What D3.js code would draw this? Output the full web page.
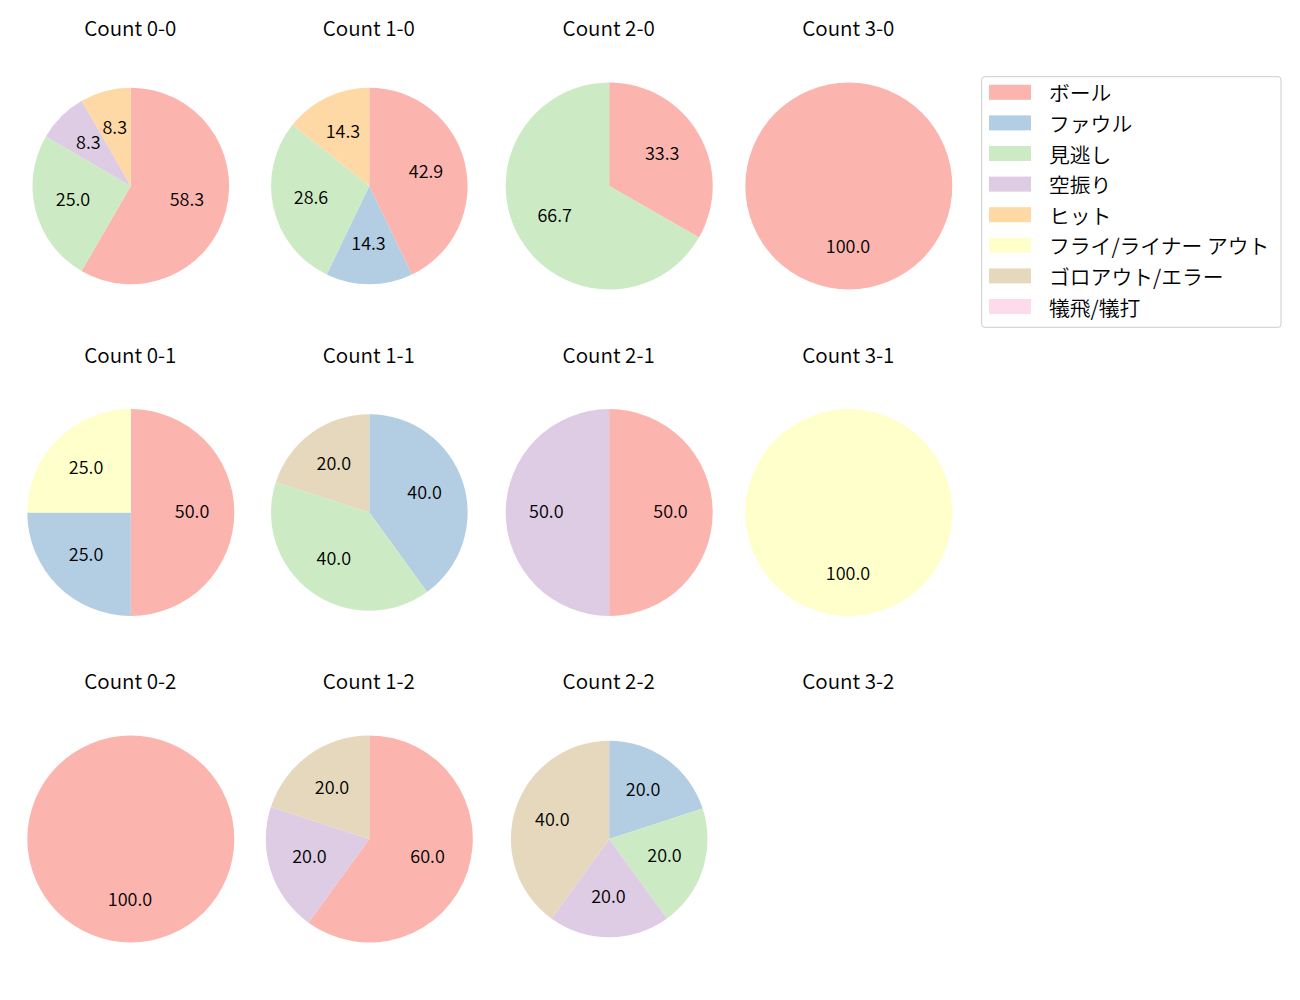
<!DOCTYPE html>
<html>
<head>
<meta charset="utf-8">
<script src="https://cdn.jsdelivr.net/npm/d3@7"></script>
<style>
  html, body { margin: 0; padding: 0; background: #ffffff; }
  svg { display: block; }
  text { font-family: "Noto Sans CJK JP", "Noto Sans", sans-serif; font-weight: 350; fill: #000000; }
</style>
</head>
<body>
<svg id="chart" width="1300" height="1000"></svg>
<script>
// ---------------- data ----------------
const categories = ["ボール", "ファウル", "見逃し", "空振り", "ヒット", "フライ/ライナー アウト", "ゴロアウト/エラー", "犠飛/犠打"];
const colors = ["#fbb4ae", "#b3cde3", "#ccebc5", "#decbe4", "#fed9a6", "#ffffcc", "#e5d8bd", "#fddaec"];
const countLabels = ["0-0", "1-0", "2-0", "3-0", "0-1", "1-1", "2-1", "3-1", "0-2", "1-2", "2-2", "3-2"];

// percentages per category (order = categories)
const count00 = [58.3, 0, 25.0, 8.3, 8.3, 0, 0, 0];
const count10 = [42.9, 14.3, 28.6, 0, 14.3, 0, 0, 0];
const count20 = [33.3, 0, 66.7, 0, 0, 0, 0, 0];
const count30 = [100.0, 0, 0, 0, 0, 0, 0, 0];
const count01 = [50.0, 25.0, 0, 0, 0, 25.0, 0, 0];
const count11 = [0, 40.0, 40.0, 0, 0, 0, 20.0, 0];
const count21 = [50.0, 0, 0, 50.0, 0, 0, 0, 0];
const count31 = [0, 0, 0, 0, 0, 100.0, 0, 0];
const count02 = [100.0, 0, 0, 0, 0, 0, 0, 0];
const count12 = [60.0, 0, 0, 20.0, 0, 0, 20.0, 0];
const count22 = [0, 20.0, 20.0, 20.0, 0, 0, 40.0, 0];
const count32 = [];

const seriesByCount = [count00, count10, count20, count30, count01, count11, count21, count31, count02, count12, count22, count32];

// ---------------- layout (styling, not data) ----------------
const colCenters = [130.8, 369.3, 609.2, 848.8];
const rowCenters = [186, 512.5, 839];
const bigR = 103.5, smallR = 98.3;
const smallPies = new Set(["0-0", "1-0", "1-1", "2-2"]);

const svg = d3.select("#chart");
const color = d3.scaleOrdinal().domain(categories).range(colors);

const pie = d3.pie().sort(null).value(d => d.value).startAngle(0).endAngle(2 * Math.PI);

countLabels.forEach((lab, i) => {
  const cx = colCenters[i % 4];
  const cy = rowCenters[Math.floor(i / 4)];
  const g = svg.append("g").attr("transform", `translate(${cx},${cy})`);

  svg.append("text")
    .attr("x", cx - 0.5).attr("y", cy - 150)
    .attr("text-anchor", "middle")
    .style("font-size", "20.6px")
    .text("Count " + lab);

  const vals = seriesByCount[i];
  if (!vals.length) return;
  const r = smallPies.has(lab) ? smallR : bigR;
  const data = categories.map((c, k) => ({ cat: c, value: vals[k] }));
  const arcs = pie(data).filter(a => a.data.value > 0);
  const arc = d3.arc().innerRadius(0).outerRadius(r);
  const labelArc = d3.arc().innerRadius(r * 0.6).outerRadius(r * 0.6);

  g.selectAll("path").data(arcs).join("path")
    .attr("d", arc)
    .attr("fill", d => color(d.data.cat));

  g.selectAll("text").data(arcs).join("text")
    .attr("transform", d => { const [x, y] = labelArc.centroid(d); return `translate(${x - 0.8},${y + 5})`; })
    .attr("text-anchor", "middle")
    .style("font-size", "18px")
    .text(d => d3.format(".1f")(d.data.value));
});

// ---------------- legend ----------------
const lg = svg.append("g");
lg.append("rect")
  .attr("x", 981.7).attr("y", 76.7).attr("width", 299.3).attr("height", 250.6)
  .attr("rx", 3).attr("fill", "#ffffff").attr("stroke", "#cccccc").attr("stroke-width", 1);
const legendY = d3.scaleLinear().domain([0, 1]).range([92.3, 122.9]);
categories.forEach((c, k) => {
  const y = legendY(k);
  lg.append("rect").attr("x", 989).attr("y", y - 7.5).attr("width", 42).attr("height", 15).attr("fill", color(c));
  lg.append("text").attr("x", 1049).attr("y", y).attr("dominant-baseline", "central")
    .style("font-size", "20.8px").text(c);
});
</script>
</body>
</html>
